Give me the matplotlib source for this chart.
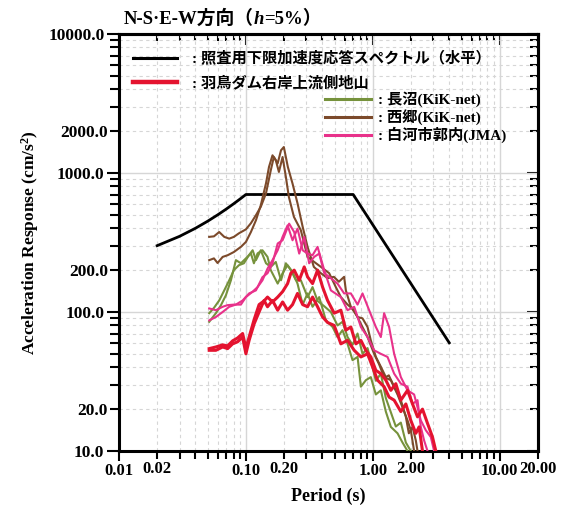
import math
import matplotlib
matplotlib.use('Agg')
import matplotlib.pyplot as plt
from matplotlib.lines import Line2D
from matplotlib.ticker import FixedLocator, FuncFormatter
from matplotlib.offsetbox import TextArea, HPacker, AnchoredOffsetbox

# ---------------- data ----------------
design_T = [0.02, 0.03, 0.04, 0.05, 0.06, 0.07, 0.08, 0.09, 0.1, 0.7, 4.0]
design_Sa = [300, 350, 400, 450, 500, 550, 600, 650, 700, 700, 60]

hatori1_T = [0.0514, 0.058, 0.0656, 0.0718, 0.0786, 0.086, 0.0942, 0.1, 0.106, 0.116, 0.127, 0.139, 0.148,
             0.162, 0.178, 0.1945, 0.213, 0.233, 0.255, 0.28, 0.306, 0.335, 0.367, 0.402, 0.44, 0.496, 0.56,
             0.632, 0.713, 0.805, 0.908, 0.994, 1.089, 1.227, 1.343, 1.472, 1.662, 1.82, 1.991, 2.181, 2.315, 2.461]
hatori1_Sa = [53, 53, 56, 54.5, 59, 61, 66, 50, 62.5, 82, 100, 121, 109, 121, 103, 118, 103, 113, 136, 113, 109,
              128, 109, 92, 84, 80, 59, 62.5, 53, 47.5, 50, 40.4, 32.3, 29, 24.4, 23.2, 19.2, 21.8, 16.6, 13.4, 14.9, 10]

hatori2_T = [0.0514, 0.058, 0.0656, 0.0718, 0.0786, 0.086, 0.0942, 0.1, 0.106, 0.116, 0.127, 0.139, 0.148,
             0.162, 0.178, 0.1945, 0.213, 0.226, 0.24, 0.263, 0.288, 0.306, 0.335, 0.367, 0.402, 0.44, 0.496,
             0.56, 0.613, 0.671, 0.735, 0.805, 0.881, 0.964, 1.056, 1.156, 1.266, 1.386, 1.517, 1.662, 1.876,
             2.054, 2.249, 2.461, 2.696, 2.951, 3.134]
hatori2_Sa = [54.5, 56, 58, 57, 62, 65, 70, 55, 66, 88, 113, 120, 128, 118, 128, 140, 160, 190, 200, 169, 211,
              179, 160, 200, 151, 121, 98, 103, 74, 78, 59, 62.5, 53, 47.5, 38, 36, 32.3, 27.3, 30.5, 23.2, 27.3,
              21.8, 17.6, 20, 15.8, 12.6, 10]

naganuma1_T = [0.0514, 0.056, 0.0616, 0.0675, 0.0739, 0.0804, 0.0881, 0.0964, 0.1056, 0.113, 0.12, 0.131,
               0.144, 0.157, 0.172, 0.189, 0.2065, 0.226, 0.248, 0.271, 0.306, 0.335, 0.367, 0.414, 0.467, 0.527,
               0.577, 0.632, 0.692, 0.758, 0.829, 0.908, 0.994, 1.056, 1.156, 1.266, 1.386, 1.517, 1.662, 1.82, 1.991]
naganuma1_Sa = [98, 107, 121, 143, 169, 200, 217, 224, 256, 278, 236, 278, 224, 211, 229, 169, 224, 200, 169,
                169, 128, 151, 120, 110, 100, 80, 85, 66, 58, 70, 50, 55, 40, 32, 36, 24, 19, 15, 16, 11.5, 10]

naganuma2_T = [0.0514, 0.058, 0.0636, 0.0696, 0.0762, 0.0834, 0.0913, 0.1, 0.1095, 0.1156, 0.1236, 0.135,
               0.148, 0.157, 0.178, 0.1945, 0.213, 0.233, 0.255, 0.28, 0.306, 0.335, 0.378, 0.4265, 0.482, 0.527,
               0.577, 0.632, 0.692, 0.758, 0.805, 0.881, 0.964, 1.056, 1.156, 1.266, 1.386, 1.565, 1.713, 1.876]
naganuma2_Sa = [85, 98, 112, 132, 169, 236, 224, 243, 264, 224, 264, 278, 249, 200, 160, 190, 217, 194, 160,
                113, 136, 109, 128, 87, 78, 66, 74, 59, 45, 47.5, 29, 32.3, 34, 25.5, 27.3, 19.2, 14.9, 13.4, 11.5, 10]

nishigo1_T = [0.0514, 0.056, 0.0616, 0.0675, 0.0739, 0.0804, 0.0881, 0.1, 0.1095, 0.12, 0.131, 0.144, 0.157,
              0.166, 0.178, 0.189, 0.199, 0.214, 0.233, 0.255, 0.28, 0.306, 0.343, 0.39, 0.44, 0.493, 0.54, 0.594,
              0.613, 0.671, 0.758, 0.829, 0.908, 0.964, 1.056, 1.156, 1.266, 1.336, 1.472, 1.662, 1.82, 1.921,
              2.054, 2.181, 2.249]
nishigo1_Sa = [347, 350, 376, 347, 337, 347, 368, 393, 435, 497, 571, 714, 1045, 1303, 1173, 1456, 1537, 1105,
               839, 605, 410, 294, 211, 190, 175, 179, 165, 179, 143, 109, 92, 90, 78, 62.5, 47.5, 40.4, 34, 35,
               29, 23.2, 17.6, 13.4, 14.9, 11.9, 10]

nishigo2_T = [0.0514, 0.056, 0.0598, 0.0656, 0.0718, 0.0804, 0.0913, 0.1, 0.1095, 0.12, 0.131, 0.144, 0.152,
              0.162, 0.172, 0.182, 0.1945, 0.2065, 0.218, 0.239, 0.271, 0.306, 0.343, 0.39, 0.453, 0.511, 0.56,
              0.632, 0.713, 0.805, 0.908, 1.024, 1.121, 1.227, 1.386, 1.565, 1.713, 1.876, 1.991, 2.114]
nishigo2_Sa = [236, 243, 225, 249, 256, 270, 294, 319, 376, 457, 586, 843, 1105, 1340, 1234, 1017, 1303, 936,
               672, 483, 387, 249, 230, 211, 190, 151, 128, 113, 103, 82, 66, 50, 42, 34, 32.3, 25.5, 20.6, 16.6,
               14.1, 10]

shirakawa1_T = [0.0514, 0.058, 0.0656, 0.0718, 0.0804, 0.0913, 0.1, 0.113, 0.1236, 0.135, 0.148, 0.162, 0.178,
                0.1945, 0.213, 0.233, 0.255, 0.28, 0.306, 0.335, 0.367, 0.414, 0.467, 0.56, 0.632, 0.713, 0.805,
                0.908, 1.024, 1.156, 1.305, 1.472, 1.662, 1.876, 2.054, 2.249, 2.387, 2.535, 2.696]
shirakawa1_Sa = [106, 103, 109, 112, 113, 113, 128, 140, 151, 169, 205, 236, 278, 347, 420, 328, 398, 278, 263,
                 256, 294, 200, 143, 128, 103, 109, 78, 66, 53, 50, 47.5, 36, 30.5, 29, 21.8, 23.2, 14.9, 11.9, 10]

shirakawa2_T = [0.0514, 0.058, 0.0656, 0.0739, 0.0834, 0.0942, 0.106, 0.12, 0.135, 0.148, 0.162, 0.178, 0.1945,
                0.219, 0.24, 0.263, 0.288, 0.315, 0.345, 0.378, 0.414, 0.453, 0.527, 0.594, 0.671, 0.758, 0.829,
                0.935, 1.056, 1.156, 1.227, 1.343, 1.472, 1.662, 1.876, 2.114, 2.249, 2.387, 2.614, 2.862, 3.039]
shirakawa2_Sa = [87, 92, 100, 109, 113, 121, 136, 143, 178, 190, 224, 311, 328, 432, 376, 263, 347, 224, 249,
                 263, 190, 179, 160, 136, 136, 113, 136, 103, 78, 66, 98, 78, 50, 34, 27.3, 25.5, 20.6, 16.6,
                 14.1, 12.6, 10]

legend_labels = [': 照査用下限加速度応答スペクトル（水平）', ': 羽鳥ダム右岸上流側地山',
                 ': 長沼(KiK-net)', ': 西郷(KiK-net)', ': 白河市郭内(JMA)']
x_major = [0.01, 0.1, 1, 10]
y_major = [10, 100, 1000, 10000]

# ---------------- style ----------------
FAM = ['Liberation Serif', 'Noto Sans CJK JP']
plt.rcParams['font.family'] = FAM
plt.rcParams['font.weight'] = 'bold'
plt.rcParams['axes.labelweight'] = 'bold'
plt.rcParams['mathtext.fontset'] = 'custom'
plt.rcParams['mathtext.rm'] = 'Liberation Serif:bold'
plt.rcParams['mathtext.it'] = 'Liberation Serif:italic:bold'
plt.rcParams['mathtext.bf'] = 'Liberation Serif:bold'

C_BLACK = '#000000'
C_RED = '#e4132f'
C_GREEN = '#76923c'
C_BROWN = '#7c4a2b'
C_PINK = '#e8318a'

fig = plt.figure(figsize=(5.66, 5.07), dpi=100)
ax = fig.add_axes([0.2102, 0.1105, 0.7403, 0.8225])
ax.set_xscale('log')
ax.set_yscale('log')

ax.plot(design_T, design_Sa, color=C_BLACK, lw=2.0, zorder=3)
for T, S in [(naganuma1_T, naganuma1_Sa), (naganuma2_T, naganuma2_Sa)]:
    ax.plot(T, S, color=C_GREEN, lw=1.5, zorder=4)
for T, S in [(nishigo1_T, nishigo1_Sa), (nishigo2_T, nishigo2_Sa)]:
    ax.plot(T, S, color=C_BROWN, lw=1.5, zorder=4)
for T, S in [(shirakawa1_T, shirakawa1_Sa), (shirakawa2_T, shirakawa2_Sa)]:
    ax.plot(T, S, color=C_PINK, lw=1.5, zorder=4)
for T, S in [(hatori1_T, hatori1_Sa), (hatori2_T, hatori2_Sa)]:
    ax.plot(T, S, color=C_RED, lw=2.2, zorder=5)

ax.set_xlim(0.01, 20)
ax.set_ylim(10, 10000)

x_minor = [m * 10.0 ** k for k in (-2, -1, 0) for m in range(2, 10)] + [20]
y_minor = [m * 10.0 ** k for k in (1, 2, 3) for m in range(2, 10)]

ax.xaxis.set_major_locator(FixedLocator(x_major))
ax.xaxis.set_minor_locator(FixedLocator(x_minor))
ax.yaxis.set_major_locator(FixedLocator(y_major))
ax.yaxis.set_minor_locator(FixedLocator(y_minor))


def lead2(v):
    return abs(v / 10.0 ** math.floor(math.log10(v) + 1e-9) - 2) < 1e-6


ax.xaxis.set_major_formatter(FuncFormatter(lambda v, p: '%.2f' % v))
ax.xaxis.set_minor_formatter(FuncFormatter(lambda v, p: ('%.2f' % v) if lead2(v) else ''))
ax.yaxis.set_major_formatter(FuncFormatter(lambda v, p: '%.1f' % v))
ax.yaxis.set_minor_formatter(FuncFormatter(lambda v, p: ('%.1f' % v) if lead2(v) else ''))

ax.grid(which='major', color='#d6d6d6', lw=1.0, ls='-', zorder=0)
ax.grid(which='minor', color='#d6d6d6', lw=0.8, ls=(0, (3, 3)), zorder=0)
ax.set_axisbelow(True)

ax.tick_params(axis='x', which='major', direction='out', length=7.5, width=1.5, labelsize=12, pad=1.5)
ax.tick_params(axis='x', which='minor', direction='out', length=5.5, width=1.5, labelsize=12, pad=1.5)
ax.tick_params(axis='y', which='major', direction='out', length=9, width=1.5, labelsize=12.5, pad=1.5)
ax.tick_params(axis='y', which='minor', direction='out', length=6.5, width=1.5, labelsize=12.5, pad=1.5)
for sp in ax.spines.values():
    sp.set_linewidth(2.2)

secx = ax.secondary_xaxis('top')
secx.set_ticks(x_major)
secx.set_ticks(x_minor, minor=True)
secx.tick_params(which='major', direction='in', length=8, width=1.5, labeltop=False)
secx.tick_params(which='minor', direction='in', length=5, width=1.5, labeltop=False)
secy = ax.secondary_yaxis('right')
secy.set_ticks(y_major)
secy.set_ticks(y_minor, minor=True)
secy.tick_params(which='major', direction='in', length=8, width=1.5, labelright=False)
secy.tick_params(which='minor', direction='in', length=6, width=1.5, labelright=False)
for s in (secx, secy):
    for sp in s.spines.values():
        sp.set_linewidth(2.2)

ax.set_xlabel('Period (s)', fontsize=13, labelpad=6)
ax.set_ylabel('Acceleration Response (cm/s$^2$)', fontsize=12.5)
ax.yaxis.set_label_coords(-0.186, 0.5)

# title with italic h
tp = dict(fontsize=13.5, fontweight='bold', family=FAM)
tpi = dict(fontsize=13.5, fontweight='bold', fontstyle='italic', family='Liberation Serif')
box = HPacker(children=[TextArea('N-S·E-W方向（', textprops=tp), TextArea('h', textprops=tpi),
                        TextArea('=5%）', textprops=tp)], align='baseline', pad=0, sep=0)
ab = AnchoredOffsetbox(loc='lower left', child=box, pad=0, borderpad=0, frameon=False,
                       bbox_to_anchor=(0.012, 1.015), bbox_transform=ax.transAxes)
ax.add_artist(ab)

# legends
h1 = [Line2D([], [], color=C_BLACK, lw=2.2), Line2D([], [], color=C_RED, lw=3.2)]
leg1 = ax.legend(h1, legend_labels[:2], loc='upper left', bbox_to_anchor=(-0.003, 0.995), frameon=False,
                 prop=dict(family=FAM, weight='bold', size=11), handlelength=2.9, handletextpad=0.95,
                 labelspacing=0.6, borderpad=1.0, borderaxespad=0)
ax.add_artist(leg1)
h2 = [Line2D([], [], color=C_GREEN, lw=2.2), Line2D([], [], color=C_BROWN, lw=2.2),
      Line2D([], [], color=C_PINK, lw=2.2)]
leg2 = ax.legend(h2, legend_labels[2:], loc='upper left', bbox_to_anchor=(0.478, 0.876), frameon=False,
                 prop=dict(family=FAM, weight='bold', size=11), handlelength=3.0, handletextpad=0.45,
                 labelspacing=0.12, borderpad=0.4, borderaxespad=0)

fig.savefig('out.png', dpi=100)
